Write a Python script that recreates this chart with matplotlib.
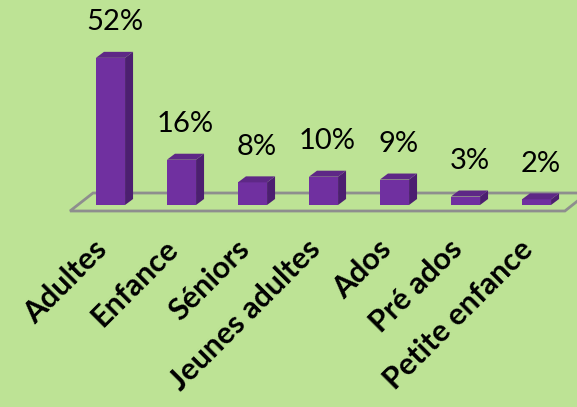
import matplotlib
matplotlib.use("Agg")
import matplotlib.pyplot as plt
from matplotlib.patches import Polygon

categories = ["Adultes", "Enfance", "Séniors", "Jeunes adultes", "Ados", "Pré ados", "Petite enfance"]
values = [52, 16, 8, 10, 9, 3, 2]
labels = ["52%", "16%", "8%", "10%", "9%", "3%", "2%"]

BG = "#BDE395"
FRONT = "#7030A0"
SIDE = "#4C1F70"
TOP = "#5E2886"

W, H = 577, 407
fig = plt.figure(figsize=(W / 100, H / 100), dpi=100, facecolor=BG)
ax = fig.add_axes([0, 0, 1, 1])
ax.set_facecolor(BG)
ax.set_axis_off()

px_x = 71.0      # px per category
px_y = 2.83      # px per percent
x0 = 110.5       # px of first bar center
y0 = 202.0       # px (from bottom) of zero line
ax.set_xlim(-x0 / px_x, (W - x0) / px_x)
ax.set_ylim(-y0 / px_y, (H - y0) / px_y)

w = 0.41
dx = 8 / px_x
dy = 6 / px_y

# floor
fy0, fy1 = -2.12, 4.24
floor = Polygon([(-0.57, fy0), (6.40, fy0), (6.72, fy1), (-0.246, fy1)],
                closed=True, facecolor=BG, edgecolor="#8E8E8E", lw=2.0, zorder=1)
ax.add_patch(floor)

xs = list(range(len(categories)))
ax.bar(xs, values, width=w, color=FRONT, zorder=3, linewidth=0)
for x, v in zip(xs, values):
    r = x + w / 2
    l = x - w / 2
    ax.add_patch(Polygon([(r, 0), (r + dx, dy), (r + dx, v + dy), (r, v)],
                         closed=True, facecolor=SIDE, lw=0, zorder=3))
    ax.add_patch(Polygon([(l, v), (r, v), (r + dx, v + dy), (l + dx, v + dy)],
                         closed=True, facecolor=TOP, lw=0, zorder=3))

for x, v, t in zip(xs, values, labels):
    ax.text(x + dx / 2, v + dy + 10.5, t, ha="center", va="center",
            fontsize=21, family="Lato", color="black", zorder=4)

for x, c in zip(xs, categories):
    ax.text(x + 0.03, -10.5, c, ha="right", va="top", rotation=45,
            fontsize=22, family="Lato", fontweight="bold", color="black", zorder=4)

fig.savefig("out.png", dpi=100, facecolor=BG)
